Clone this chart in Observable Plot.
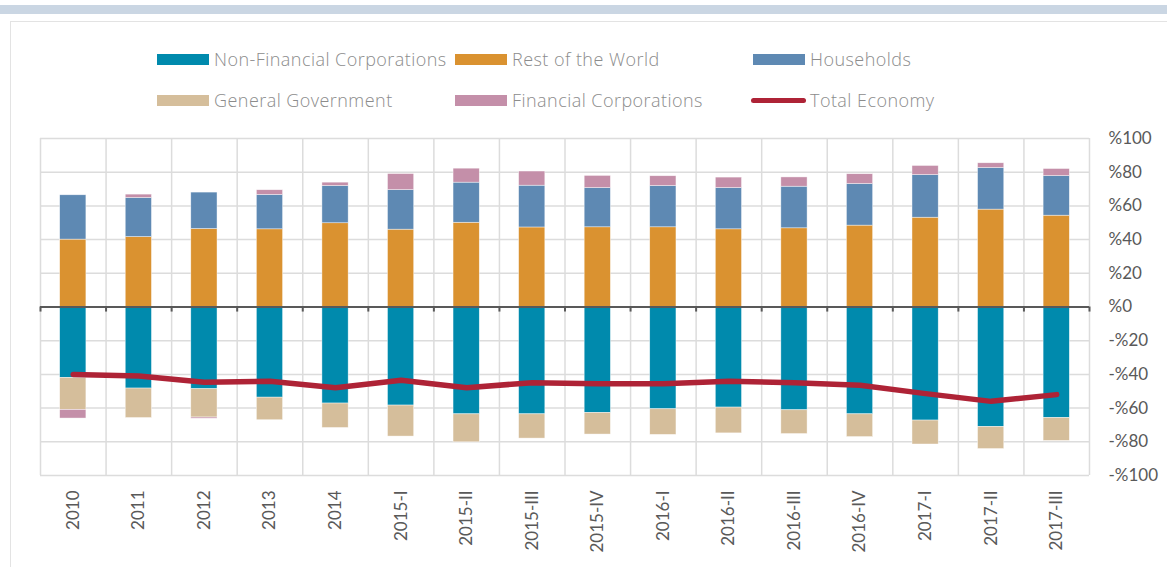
<!DOCTYPE html>
<html>
<head>
<meta charset="utf-8">
<script src="https://cdn.jsdelivr.net/npm/d3@7"></script>
<script src="https://cdn.jsdelivr.net/npm/@observablehq/plot@0.6"></script>
<style>
  html, body { margin: 0; padding: 0; background: #fff; }
  #wrap { position: relative; width: 1167px; height: 567px; overflow: hidden; background: #fff; }
  #band { position: absolute; left: 0; top: 5px; width: 1167px; height: 9px; background: #cad6e3; }
  #box { position: absolute; left: 10px; top: 21px; width: 1160px; height: 560px; border: 1.5px solid #e3e3e3; box-sizing: border-box; }
  #chart { position: absolute; left: 0; top: 0; }
  .lg { position: absolute; display: flex; align-items: center; font-family: "Open Sans", sans-serif; font-weight: 300; font-size: 18px; letter-spacing: 0.45px; color: #8c8c8c; white-space: nowrap; }
  .sw { width: 52px; height: 11px; margin-right: 5px; }
  .ln { width: 55px; height: 5px; border-radius: 3px; margin-right: 4px; }
</style>
</head>
<body>
<div id="wrap">
  <div id="band"></div>
  <div id="box"></div>
  <div id="chart"></div>
  <div id="legend"></div>
</div>
<script>
const categories = ["2010","2011","2012","2013","2014","2015-I","2015-II","2015-III","2015-IV","2016-I","2016-II","2016-III","2016-IV","2017-I","2017-II","2017-III"];
const seriesNames = ["Non-Financial Corporations","Rest of the World","Households","General Government","Financial Corporations"];
const nonFinancialCorporations = [-42.1,-48.4,-48.8,-53.8,-57.3,-58.5,-63.7,-63.7,-62.9,-60.7,-59.7,-61.3,-63.7,-67.4,-71.2,-65.9];
const restOfTheWorld = [40.0,41.5,46.3,46.1,49.7,45.9,50.0,47.2,47.3,47.3,46.1,46.7,48.3,53.0,57.8,54.2];
const households = [26.3,23.2,21.6,20.4,22.1,23.5,23.8,24.8,23.3,24.5,24.5,24.7,24.7,25.3,24.7,23.5];
const generalGovernment = [-19.0,-17.5,-16.8,-13.4,-14.5,-18.4,-16.6,-14.4,-12.8,-15.2,-15.3,-14.1,-13.5,-14.2,-13.1,-13.6];
const financialCorporations = [-5.1,2.0,-0.7,2.8,2.0,9.5,8.3,8.4,7.2,5.8,6.2,5.5,5.8,5.4,2.8,4.2];
const totalEconomy = [-40.0,-41.0,-44.7,-44.1,-47.9,-43.5,-47.9,-44.9,-45.5,-45.5,-44.1,-44.9,-46.5,-51.4,-56.0,-52.0];
const yTicks = [-100,-80,-60,-40,-20,0,20,40,60,80,100];

const colors = {
  "Non-Financial Corporations": "#008aad",
  "Rest of the World": "#da9230",
  "Households": "#5e89b3",
  "General Government": "#d5be9b",
  "Financial Corporations": "#c48fa9"
};
const lineColor = "#ae2336";

const seriesValues = [nonFinancialCorporations, restOfTheWorld, households, generalGovernment, financialCorporations];
const rows = [];
seriesNames.forEach((s, si) => categories.forEach((c, ci) => rows.push({cat: c, series: s, order: si, value: seriesValues[si][ci]})));
const totals = categories.map((c, i) => ({cat: c, value: totalEconomy[i]}));

const W = 1167, H = 567;
const mL = 40, mR = 78, mT = 138, mB = 92;
const bw = (W - mL - mR) / categories.length;
const gridColor = "#dcdcdc";

const chart = Plot.plot({
  width: W,
  height: H,
  marginLeft: mL,
  marginRight: mR,
  marginTop: mT,
  marginBottom: mB,
  style: {background: "transparent", color: "#595959", fontFamily: "Lato, sans-serif"},
  x: {domain: categories, paddingInner: 0.6, paddingOuter: 0.3, round: false, label: null},
  y: {domain: [-100, 100], label: null},
  color: {domain: seriesNames, range: seriesNames.map(s => colors[s])},
  marks: [
    Plot.ruleY(yTicks, {stroke: gridColor, strokeWidth: 1.5}),
    Plot.ruleX(categories, {x: d => d, stroke: gridColor, strokeWidth: 1.5, dx: -bw / 2}),
    Plot.ruleX(categories.slice(-1), {x: d => d, stroke: gridColor, strokeWidth: 1.5, dx: bw / 2}),
    Plot.barY(rows, Plot.stackY({x: "cat", y: "value", fill: "series", order: "order", stroke: "#ffffff", strokeWidth: 0.6, strokeOpacity: 0.7})),
    Plot.ruleY([0], {stroke: "#595959", strokeWidth: 2}),
    Plot.ruleX(categories, {x: d => d, y1: 0, y2: -3, stroke: "#595959", strokeWidth: 2, dx: -bw / 2}),
    Plot.ruleX(categories.slice(-1), {x: d => d, y1: 0, y2: -3, stroke: "#595959", strokeWidth: 2, dx: bw / 2}),
    Plot.line(totals, {x: "cat", y: "value", stroke: lineColor, strokeWidth: 5.5, strokeLinejoin: "round", strokeLinecap: "round"}),
    Plot.axisY({anchor: "right", ticks: yTicks, tickSize: 0, tickPadding: 19, textAnchor: "start", fontSize: 17, fill: "#595959",
      tickFormat: d => (d < 0 ? "-" : "") + "%" + Math.abs(d), label: null}),
    Plot.axisX({anchor: "bottom", tickRotate: -90, tickSize: 0, tickPadding: 15, fontSize: 17, fill: "#595959", label: null})
  ]
});
document.getElementById("chart").appendChild(chart);

// legend
const legendItems = [
  {name: "Non-Financial Corporations", x: 157, y: 59, type: "bar"},
  {name: "Rest of the World", x: 455, y: 59, type: "bar"},
  {name: "Households", x: 753, y: 59, type: "bar"},
  {name: "General Government", x: 157, y: 100, type: "bar"},
  {name: "Financial Corporations", x: 455, y: 100, type: "bar"},
  {name: "Total Economy", x: 751, y: 100, type: "line"}
];
const lg = document.getElementById("legend");
legendItems.forEach(it => {
  const d = document.createElement("div");
  d.className = "lg";
  d.style.left = it.x + "px";
  d.style.top = (it.y - 12) + "px";
  d.style.height = "24px";
  const s = document.createElement("div");
  s.className = it.type === "bar" ? "sw" : "ln";
  s.style.background = it.type === "bar" ? colors[it.name] : lineColor;
  d.appendChild(s);
  const t = document.createElement("span");
  t.textContent = it.name;
  d.appendChild(t);
  lg.appendChild(d);
});
</script>
</body>
</html>
